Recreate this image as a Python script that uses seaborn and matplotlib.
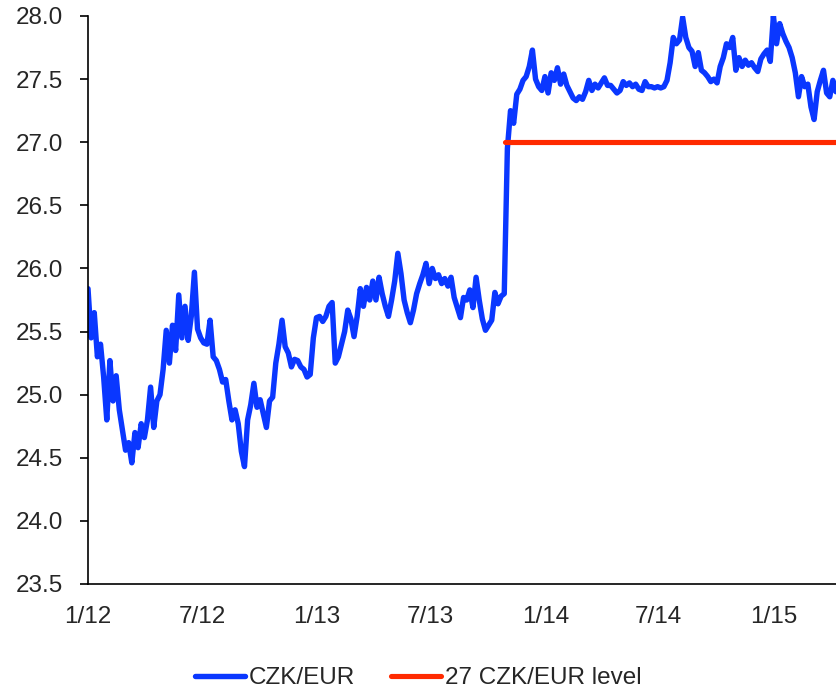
import matplotlib
matplotlib.use("Agg")
import matplotlib.pyplot as plt
import matplotlib.dates as mdates
import matplotlib.ticker as mticker
import numpy as np
import pandas as pd
import seaborn as sns

# CZK per EUR, sampled every five days from 1 Jan 2012
start_date = "2012-01-01"
czk_eur = [
    25.84, 25.45, 25.65, 25.30, 25.40, 25.14, 24.80, 25.27, 24.95, 25.15,
    24.88, 24.72, 24.56, 24.62, 24.46, 24.70, 24.58, 24.77, 24.66, 24.80,
    25.06, 24.74, 24.95, 25.00, 25.20, 25.51, 25.25, 25.55, 25.35, 25.79,
    25.45, 25.70, 25.43, 25.62, 25.97, 25.52, 25.45, 25.41, 25.40, 25.59,
    25.30, 25.27, 25.20, 25.10, 25.12, 24.95, 24.80, 24.88, 24.77, 24.55,
    24.43, 24.80, 24.92, 25.09, 24.90, 24.96, 24.85, 24.74, 24.95, 24.98,
    25.25, 25.40, 25.59, 25.38, 25.33, 25.22, 25.28, 25.27, 25.22, 25.20,
    25.14, 25.16, 25.45, 25.61, 25.62, 25.58, 25.62, 25.70, 25.73, 25.25,
    25.30, 25.40, 25.50, 25.67, 25.60, 25.46, 25.62, 25.84, 25.70, 25.85,
    25.75, 25.90, 25.75, 25.93, 25.80, 25.70, 25.62, 25.75, 25.90, 26.12,
    25.96, 25.75, 25.65, 25.57, 25.67, 25.80, 25.88, 25.95, 26.04, 25.88,
    26.00, 25.92, 25.95, 25.88, 25.92, 25.86, 25.93, 25.77, 25.69, 25.61,
    25.77, 25.75, 25.83, 25.69, 25.93, 25.75, 25.60, 25.51, 25.55, 25.59,
    25.81, 25.72, 25.78, 25.80, 26.95, 27.25, 27.15, 27.38, 27.42, 27.49,
    27.52, 27.60, 27.73, 27.50, 27.44, 27.41, 27.52, 27.39, 27.55, 27.49,
    27.59, 27.46, 27.54, 27.45, 27.40, 27.35, 27.33, 27.36, 27.34, 27.40,
    27.49, 27.41, 27.46, 27.43, 27.47, 27.51, 27.45, 27.45, 27.42, 27.39,
    27.41, 27.48, 27.45, 27.47, 27.44, 27.46, 27.42, 27.41, 27.48, 27.44,
    27.44, 27.43, 27.44, 27.43, 27.44, 27.49, 27.63, 27.83, 27.78, 27.81,
    27.99, 27.83, 27.75, 27.72, 27.60, 27.71, 27.57, 27.55, 27.52, 27.48,
    27.50, 27.47, 27.60, 27.67, 27.78, 27.75, 27.83, 27.57, 27.67, 27.60,
    27.65, 27.61, 27.63, 27.59, 27.56, 27.66, 27.70, 27.73, 27.64, 28.00,
    27.78, 27.94, 27.86, 27.80, 27.75, 27.67, 27.55, 27.36, 27.52, 27.44,
    27.46, 27.28, 27.18, 27.40, 27.49, 27.57, 27.39, 27.36, 27.49, 27.40,
]
dates = pd.date_range(start_date, periods=len(czk_eur), freq="5D")

# CNB floor introduced in late 2013
floor_level = 27.0
floor_start = "2013-10-28"
floor_end = dates[-1]

series_labels = ["CZK/EUR", "27 CZK/EUR level"]
y_ticks = [23.5, 24.0, 24.5, 25.0, 25.5, 26.0, 26.5, 27.0, 27.5, 28.0]
x_ticks = ["2012-01-01", "2012-07-01", "2013-01-01", "2013-07-01",
           "2014-01-01", "2014-07-01", "2015-01-01"]

sns.set_style("white")
plt.rcParams["font.family"] = ["Liberation Sans", "DejaVu Sans"]

blue = "#0A37FF"
red = "#FF2A00"
font_size = 17.5

fig = plt.figure(figsize=(8.36, 6.90), dpi=100)
ax = fig.add_axes([88 / 836, 1 - 584 / 690, (836 - 88) / 836, (584 - 16) / 690])

df = pd.DataFrame({"date": dates, "rate": czk_eur})
floor_df = pd.DataFrame({"date": pd.to_datetime([floor_start, floor_end]),
                         "rate": [floor_level, floor_level]})

sns.lineplot(data=df, x="date", y="rate", ax=ax, color=blue, linewidth=3.9,
             label=series_labels[0], solid_capstyle="round", solid_joinstyle="round")
sns.lineplot(data=floor_df, x="date", y="rate", ax=ax, color=red, linewidth=3.7,
             label=series_labels[1], solid_capstyle="round")

ax.set_xlim(pd.Timestamp("2012-01-01"), pd.Timestamp("2015-04-10"))
ax.set_ylim(23.5, 28.0)
ax.set_yticks(y_ticks)
ax.yaxis.set_major_formatter(mticker.FormatStrFormatter("%.1f"))
ax.set_xticks(pd.to_datetime(x_ticks))
ax.xaxis.set_major_formatter(mticker.FuncFormatter(
    lambda v, _: f"{mdates.num2date(v).month}/{mdates.num2date(v).year % 100:02d}"))
ax.set_xlabel("")
ax.set_ylabel("")

for side in ("top", "right"):
    ax.spines[side].set_visible(False)
for side in ("left", "bottom"):
    ax.spines[side].set_color("black")
    ax.spines[side].set_linewidth(1.2)

ax.tick_params(axis="y", which="major", direction="out", length=6, width=1.2,
               color="black", pad=12, labelsize=font_size, left=True)
ax.tick_params(axis="x", which="major", length=0, pad=16, labelsize=font_size)

handles, labels = ax.get_legend_handles_labels()
ax.get_legend().remove()
fig.legend(handles, labels, loc="center", bbox_to_anchor=(0.5, 1 - 678 / 690),
           ncol=2, frameon=False, fontsize=font_size, handlelength=2.05,
           handletextpad=0.15, columnspacing=1.5)

fig.savefig("out.png", dpi=100)
